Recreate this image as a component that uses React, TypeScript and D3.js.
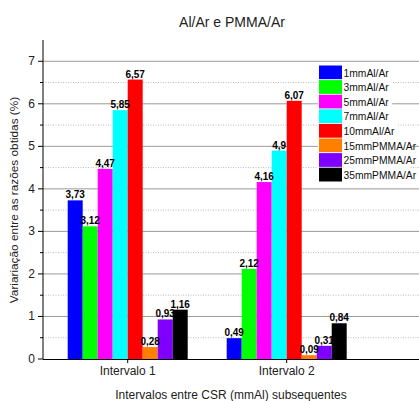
import React from 'react';
import * as d3 from 'd3';

const categories = ['Intervalo 1', 'Intervalo 2'];
const seriesNames = ['1mmAl/Ar', '3mmAl/Ar', '5mmAl/Ar', '7mmAl/Ar', '10mmAl/Ar', '15mmPMMA/Ar', '25mmPMMA/Ar', '35mmPMMA/Ar'];
const seriesColors = ['#0000ff', '#00ff00', '#ff00ff', '#00ffff', '#ff0000', '#ff8000', '#8000ff', '#000000'];
const intervalo1 = [3.73, 3.12, 4.47, 5.85, 6.57, 0.28, 0.93, 1.16];
const intervalo2 = [0.49, 2.12, 4.16, 4.9, 6.07, 0.09, 0.31, 0.84];
const values = [intervalo1, intervalo2];
const yTicks = [0, 1, 2, 3, 4, 5, 6, 7];

const W = 419;
const H = 401;
const font = '"Liberation Sans", Arial, sans-serif';

export default function App() {
  const left = 43;
  const right = 419;
  const top = 40;
  const bottom = 359;

  const y = d3.scaleLinear().domain([0, 7.5]).range([bottom, top]);
  // centros dos dois grupos
  const xc = d3.scalePoint<string>().domain(categories).range([127.7, 286.7]);
  const inner = d3.scaleBand<string>().domain(seriesNames).range([-60, 60]).padding(0);

  const minor = d3.range(0.5, 7.5, 1);

  return (
    <svg width={W} height={H} style={{ position: 'absolute', left: 0, top: 0, fontFamily: font }}>
      <rect width={W} height={H} fill="#fff" />
      {/* titulo */}
      <text x={232} y={27} textAnchor="middle" fontSize={14} fill="#222">Al/Ar e PMMA/Ar</text>

      {/* grelha */}
      {minor.map(t => (
        <line key={'m' + t} x1={left} x2={right} y1={y(t)} y2={y(t)} stroke="#bbb" strokeWidth={1} strokeDasharray="1,1.5" />
      ))}
      {yTicks.filter(t => t > 0).map(t => (
        <line key={'g' + t} x1={left} x2={right} y1={y(t)} y2={y(t)} stroke="#9a9a9a" strokeWidth={1} />
      ))}

      {/* barras */}
      {categories.map((c, ci) => (
        <g key={c} transform={`translate(${xc(c)},0)`}>
          {values[ci].map((v, i) => (
            <rect key={i} x={inner(seriesNames[i])!} y={y(v)} width={inner.bandwidth()} height={bottom - y(v)} fill={seriesColors[i]} />
          ))}
          {values[ci].map((v, i) => (
            <text key={'t' + i} x={inner(seriesNames[i])! + inner.bandwidth() / 2} y={y(v) - 2} textAnchor="middle" fontSize={10} fontWeight="bold" fill="#000">
              {String(v).replace('.', ',')}
            </text>
          ))}
        </g>
      ))}

      {/* eixos */}
      <line x1={left} x2={left} y1={top} y2={bottom} stroke="#000" strokeWidth={1} />
      <line x1={left} x2={right} y1={bottom + 0.5} y2={bottom + 0.5} stroke="#000" strokeWidth={1.2} />
      {yTicks.map(t => (
        <g key={'y' + t}>
          <line x1={left - 5} x2={left} y1={y(t)} y2={y(t)} stroke="#000" />
          <text x={left - 8} y={y(t) + 4} textAnchor="end" fontSize={12} fill="#222">{t}</text>
        </g>
      ))}
      {minor.map(t => (
        <line key={'mt' + t} x1={left - 3} x2={left} y1={y(t)} y2={y(t)} stroke="#000" />
      ))}
      {categories.map(c => (
        <g key={'x' + c}>
          <line x1={xc(c)} x2={xc(c)} y1={bottom} y2={bottom + 4} stroke="#000" />
          <text x={xc(c)} y={375} textAnchor="middle" fontSize={12} fill="#222">{c}</text>
        </g>
      ))}
      <text x={231} y={399} textAnchor="middle" fontSize={12} fill="#222">Intervalos entre CSR (mmAl) subsequentes</text>
      <text transform={`translate(18,200) rotate(-90)`} textAnchor="middle" fontSize={11.8} fill="#222">
        Variariação entre as razões obtidas (%)
      </text>

      {/* legenda */}
      {seriesNames.map((s, i) => {
        const ly = 65.5 + i * 14.6;
        return (
          <g key={'l' + s}>
            <rect x={318} y={ly - 0.5} width={Math.min(27 + s.length * 5.9, 101)} height={14.6} fill="#fff" />
            <rect x={319} y={ly} width={23} height={13.8} fill={seriesColors[i]} />
            <text x={343.5} y={ly + 11} fontSize={10.3} fill="#111">{s}</text>
          </g>
        );
      })}
    </svg>
  );
}
